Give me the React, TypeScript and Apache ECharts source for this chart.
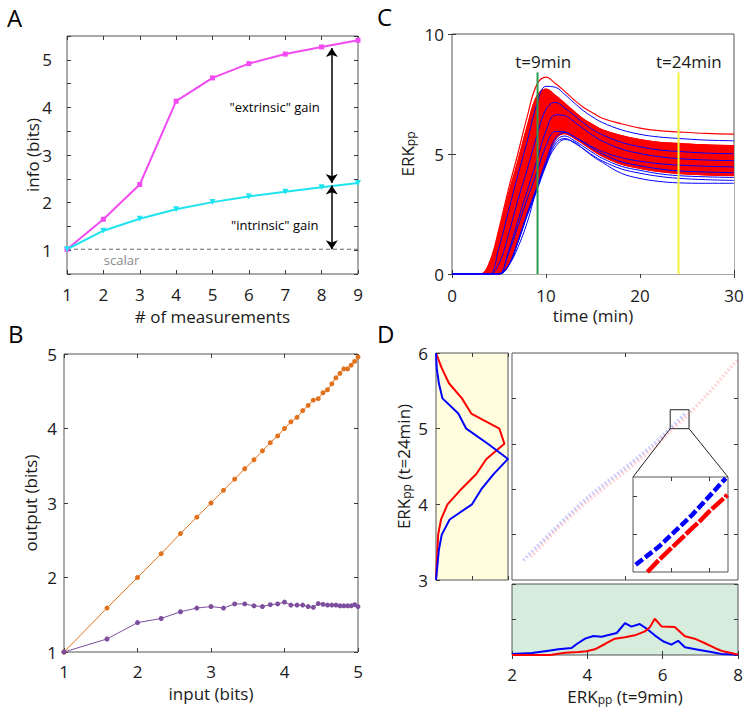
import React, { useEffect, useRef } from 'react';
import * as echarts from 'echarts';

const FONT = '"Open Sans", "Noto Sans", sans-serif';

// ---------- Panel A ----------
const measurements = [1, 2, 3, 4, 5, 6, 7, 8, 9];
const extrinsicInfo = [1.02, 1.65, 2.38, 4.13, 4.62, 4.92, 5.12, 5.27, 5.41];
const intrinsicInfo = [1.02, 1.41, 1.66, 1.86, 2.01, 2.13, 2.23, 2.32, 2.41];
const scalarInfo = 1.02;
const gainArrowX = 8.28;
const extrinsicArrow = [5.25, 2.41];
const intrinsicArrow = [2.36, 1.02];

// ---------- Panel B ----------
const inputBits = [1, 1.585, 2, 2.322, 2.585, 2.807, 3, 3.17, 3.322, 3.459, 3.585, 3.7, 3.807, 3.907, 4, 4.087, 4.17, 4.248, 4.322, 4.392, 4.459, 4.524, 4.585, 4.644, 4.7, 4.755, 4.807, 4.858, 4.907, 4.954, 5];
const outputLinear = [1, 1.59, 2, 2.32, 2.59, 2.81, 3, 3.17, 3.32, 3.46, 3.58, 3.7, 3.81, 3.9, 4, 4.09, 4.15, 4.24, 4.31, 4.38, 4.4, 4.48, 4.52, 4.6, 4.68, 4.74, 4.8, 4.8, 4.85, 4.9, 4.96];
const outputSaturating = [1, 1.175, 1.394, 1.45, 1.54, 1.59, 1.61, 1.59, 1.645, 1.645, 1.62, 1.61, 1.635, 1.645, 1.67, 1.63, 1.63, 1.63, 1.61, 1.6, 1.65, 1.64, 1.63, 1.63, 1.63, 1.62, 1.62, 1.62, 1.62, 1.635, 1.61];

// ---------- Panel C ----------
const timeMin = [0, 3, 4, 5, 6, 7, 8, 9, 10, 11, 12, 13, 14, 15, 16, 18, 20, 22, 24, 27, 30];
const redTrajectories: number[][] = [
  [0, 0, 0.49, 1.89, 3.53, 5.0, 6.56, 7.87, 8.2, 7.94, 7.61, 7.25, 6.94, 6.71, 6.49, 6.26, 6.08, 5.97, 5.92, 5.86, 5.83],
  [0, 0, 0.46, 1.77, 3.31, 4.7, 6.16, 7.39, 7.7, 7.44, 7.11, 6.76, 6.45, 6.22, 6.01, 5.77, 5.6, 5.49, 5.44, 5.38, 5.35],
  [0, 0, 0, 1.05, 2.48, 3.9, 5.25, 6.68, 7.43, 7.39, 7.1, 6.77, 6.45, 6.2, 5.98, 5.7, 5.52, 5.41, 5.35, 5.29, 5.25],
  [0, 0, 0, 0.99, 2.34, 3.69, 4.97, 6.32, 7.03, 7.0, 6.73, 6.43, 6.15, 5.91, 5.72, 5.46, 5.3, 5.19, 5.14, 5.08, 5.05],
  [0, 0, 0, 0.42, 1.61, 3.01, 4.27, 5.6, 6.72, 7.0, 6.77, 6.49, 6.18, 5.91, 5.71, 5.42, 5.24, 5.11, 5.05, 4.99, 4.96],
  [0, 0, 0, 0.41, 1.58, 2.95, 4.18, 5.48, 6.58, 6.85, 6.63, 6.35, 6.05, 5.79, 5.59, 5.31, 5.13, 5.01, 4.95, 4.89, 4.86],
  [0, 0, 0, 0.4, 1.52, 2.84, 4.03, 5.28, 6.34, 6.6, 6.4, 6.14, 5.86, 5.62, 5.43, 5.18, 5.01, 4.9, 4.84, 4.79, 4.76],
  [0, 0, 0, 0, 0.91, 2.15, 3.38, 4.55, 5.79, 6.44, 6.41, 6.16, 5.88, 5.62, 5.4, 5.08, 4.9, 4.78, 4.7, 4.65, 4.62],
  [0, 0, 0, 0, 0.87, 2.05, 3.22, 4.34, 5.52, 6.14, 6.11, 5.88, 5.62, 5.36, 5.16, 4.86, 4.69, 4.57, 4.5, 4.45, 4.41],
  [0, 0, 0, 0, 0.36, 1.38, 2.58, 3.66, 4.8, 5.76, 6.0, 5.8, 5.55, 5.28, 5.05, 4.7, 4.52, 4.39, 4.31, 4.25, 4.22],
  [0, 0, 0, 0, 0.35, 1.35, 2.52, 3.57, 4.68, 5.62, 5.85, 5.66, 5.41, 5.14, 4.91, 4.58, 4.4, 4.27, 4.19, 4.13, 4.1],
];
const blueTrajectories: number[][] = [
  [0, 0, 0, 1.11, 2.61, 4.11, 5.53, 7.03, 7.82, 7.78, 7.48, 7.13, 6.8, 6.53, 6.31, 6.01, 5.82, 5.71, 5.65, 5.58, 5.55],
  [0, 0, 0, 0.43, 1.64, 3.07, 4.36, 5.72, 6.86, 7.15, 6.91, 6.61, 6.29, 6.01, 5.8, 5.49, 5.3, 5.17, 5.11, 5.04, 5.01],
  [0, 0, 0, 0, 0.94, 2.21, 3.48, 4.69, 5.96, 6.63, 6.6, 6.34, 6.05, 5.77, 5.54, 5.21, 5.02, 4.89, 4.81, 4.75, 4.72],
  [0, 0, 0, 0, 0.84, 1.98, 3.12, 4.2, 5.34, 5.94, 5.92, 5.72, 5.5, 5.28, 5.1, 4.85, 4.7, 4.6, 4.54, 4.49, 4.46],
  [0, 0, 0, 0, 0.35, 1.36, 2.54, 3.6, 4.72, 5.66, 5.9, 5.71, 5.48, 5.22, 5.0, 4.68, 4.51, 4.38, 4.3, 4.25, 4.22],
  [0, 0, 0, 0, 0.35, 1.32, 2.47, 3.51, 4.6, 5.52, 5.75, 5.56, 5.31, 5.05, 4.82, 4.49, 4.32, 4.18, 4.1, 4.05, 4.02],
  [0, 0, 0, 0, 0.34, 1.3, 2.43, 3.45, 4.52, 5.42, 5.65, 5.46, 5.21, 4.94, 4.71, 4.38, 4.2, 4.07, 3.99, 3.93, 3.9],
  [0, 0, 0, 0.02, 0.35, 1.1, 2.15, 3.5, 4.55, 5.3, 5.6, 5.5, 5.2, 4.9, 4.65, 4.2, 3.98, 3.86, 3.8, 3.78, 3.78],
];
const sampleTimes = [9.1, 24.1];
const sampleLineTop = 8.4;
const sampleLabels = ['t=9min', 't=24min'];

// ---------- Panel D ----------
const erk24Levels = [3.0, 3.2, 3.4, 3.6, 3.8, 4.0, 4.2, 4.4, 4.6, 4.8, 5.0, 5.2, 5.4, 5.6, 5.8, 6.0];
const redDensity24 = [0, 0.01, 0.02, 0.03, 0.07, 0.16, 0.35, 0.56, 0.7, 0.95, 0.88, 0.49, 0.36, 0.18, 0.08, 0];
const blueDensity24 = [0, 0.02, 0.04, 0.08, 0.19, 0.5, 0.63, 0.8, 1.0, 0.72, 0.42, 0.31, 0.09, 0.04, 0.01, 0];

const blueErk9 = [2.0, 2.53, 2.97, 3.23, 3.58, 3.72, 3.94, 4.16, 4.38, 4.78, 5.0, 5.17, 5.39, 5.61, 5.79, 6.01, 6.23, 6.41, 6.59, 6.94, 7.29, 7.56, 8.0];
const blueDensity9 = [0.014, 0.028, 0.061, 0.08, 0.099, 0.155, 0.23, 0.268, 0.258, 0.31, 0.45, 0.4, 0.437, 0.357, 0.277, 0.193, 0.146, 0.2, 0.108, 0.075, 0.042, 0.014, 0.005];
const redErk9 = [2.0, 2.97, 3.06, 3.41, 3.76, 3.98, 4.2, 4.47, 4.73, 5.0, 5.26, 5.53, 5.66, 5.79, 5.97, 6.32, 6.59, 6.85, 7.11, 7.38, 7.6, 7.82, 8.0];
const redDensity9 = [0, 0, 0.005, 0.033, 0.042, 0.052, 0.08, 0.155, 0.23, 0.249, 0.277, 0.333, 0.39, 0.51, 0.403, 0.394, 0.263, 0.23, 0.169, 0.099, 0.052, 0.028, 0.005];

const blueCloudX = [2.3, 3.1, 3.98, 4.87, 5.75, 6.19, 6.6];
const blueCloudY = [3.26, 3.66, 4.08, 4.43, 4.79, 5.0, 5.2];
const redCloudX = [2.5, 3.1, 3.98, 4.87, 5.75, 6.19, 6.63, 7.16, 8.0];
const redCloudY = [3.3, 3.62, 4.03, 4.38, 4.74, 4.96, 5.16, 5.44, 5.92];

const zoomX = [6.2, 6.7];
const zoomY = [5.0, 5.25];
const insetBlueX = [6.214, 6.337, 6.513, 6.601, 6.688];
const insetBlueY = [5.019, 5.067, 5.151, 5.199, 5.247];
const insetRedX = [6.276, 6.337, 6.513, 6.55, 6.6, 6.697];
const insetRedY = [5.0, 5.032, 5.116, 5.133, 5.159, 5.203];

const zip = (xs: number[], ys: number[]) => xs.map((x, i) => [x, ys[i]]);

const TICK = '#3a3a3a';
const FRAME = '#555';

const labelStyle = (margin: number, extra: any = {}) => ({
  show: true,
  fontFamily: FONT,
  fontSize: 17,
  lineHeight: 16,
  color: '#1a1a1a',
  margin,
  showMinLabel: true,
  showMaxLabel: true,
  ...extra,
});

const nameStyle = {
  fontFamily: FONT,
  fontSize: 17,
  lineHeight: 18,
  color: '#1a1a1a',
  rich: {
    a: { fontFamily: FONT, fontSize: 17, color: '#1a1a1a', lineHeight: 18 },
    s: { fontFamily: FONT, fontSize: 12, color: '#1a1a1a', lineHeight: 10, verticalAlign: 'bottom' },
  },
};

function axis(gridIndex: number, position: string, min: number, max: number, cfg: any = {}) {
  const tick: any = { show: cfg.ticks !== false, inside: true, length: 4, lineStyle: { color: TICK, width: 1 } };
  if (cfg.tickValues) tick.customValues = cfg.tickValues;
  const a: any = {
    type: 'value',
    gridIndex,
    position,
    min,
    max,
    axisLine: { show: false },
    splitLine: { show: false },
    axisTick: tick,
    axisLabel: cfg.label ? cfg.label : { show: false },
  };
  if (cfg.interval !== undefined) a.interval = cfg.interval;
  if (cfg.name) {
    a.name = cfg.name;
    a.nameLocation = 'middle';
    a.nameGap = cfg.nameGap;
    a.nameMoveOverlap = false;
    a.nameTextStyle = nameStyle;
  }
  return a;
}

function buildOption() {
  const grids = [
    { left: 67, top: 36, width: 291, height: 238 }, // A
    { left: 64, top: 354, width: 294, height: 298 }, // B
    { left: 452, top: 34, width: 282, height: 240 }, // C
    { left: 436, top: 353, width: 72, height: 227, backgroundColor: '#FFFDDE' }, // D left marginal
    { left: 512, top: 353, width: 226, height: 227 }, // D main
    { left: 512, top: 584, width: 226, height: 71, backgroundColor: '#D6ECDD' }, // D bottom marginal
    { left: 633, top: 477, width: 95, height: 95, backgroundColor: '#ffffff' }, // D inset
  ].map((g: any) => ({
    show: true,
    borderColor: FRAME,
    borderWidth: 1,
    backgroundColor: g.backgroundColor || 'transparent',
    containLabel: false,
    ...g,
  }));

  const xAxis = [
    axis(0, 'bottom', 1, 9, { interval: 1, label: labelStyle(12), name: '# of measurements', nameGap: 33 }),
    axis(0, 'top', 1, 9, { interval: 1 }),
    axis(1, 'bottom', 1, 5, { interval: 1, label: labelStyle(11), name: 'input (bits)', nameGap: 32 }),
    axis(1, 'top', 1, 5, { interval: 1 }),
    axis(2, 'bottom', 0, 30, { interval: 10, label: labelStyle(13), name: 'time (min)', nameGap: 32 }),
    axis(2, 'top', 0, 30, { interval: 10 }),
    axis(3, 'bottom', 0, 1, { interval: 0.5 }),
    axis(3, 'top', 0, 1, { interval: 0.5 }),
    axis(4, 'bottom', 2, 8, { tickValues: [5] }),
    axis(4, 'top', 2, 8, { tickValues: [5] }),
    axis(5, 'bottom', 2, 8, {
      interval: 2,
      label: labelStyle(11),
      name: '{a|ERK}{s|pp}{a| (t=9min)}',
      nameGap: 32,
    }),
    axis(5, 'top', 2, 8, { interval: 2 }),
    axis(6, 'bottom', zoomX[0], zoomX[1], { tickValues: [6.4, 6.6] }),
    axis(6, 'top', zoomX[0], zoomX[1], { tickValues: [6.4, 6.6] }),
  ];

  const yAxis = [
    axis(0, 'left', 0.5, 5.5, {
      interval: 0.5,
      label: labelStyle(15, { formatter: (v: number) => (Math.abs(v - Math.round(v)) < 1e-6 ? String(Math.round(v)) : '') }),
      name: 'info (bits)',
      nameGap: 26,
    }),
    axis(0, 'right', 0.5, 5.5, { interval: 0.5 }),
    axis(1, 'left', 1, 5, { interval: 1, label: labelStyle(7), name: 'output (bits)', nameGap: 25 }),
    axis(1, 'right', 1, 5, { interval: 1 }),
    axis(2, 'left', 0, 10, { interval: 5, label: labelStyle(8), name: '{a|ERK}{s|pp}', nameGap: 36 }),
    axis(2, 'right', 0, 10, { interval: 5 }),
    axis(3, 'left', 3, 6, {
      interval: 1,
      label: labelStyle(8),
      name: '{a|ERK}{s|pp}{a| (t=24min)}',
      nameGap: 24,
    }),
    axis(3, 'right', 3, 6, { ticks: false }),
    axis(4, 'left', 3, 6, { tickValues: [3.6, 4.2, 4.8, 5.4] }),
    axis(4, 'right', 3, 6, { tickValues: [3.6, 4.2, 4.8, 5.4] }),
    axis(5, 'left', 0, 1, { interval: 0.5 }),
    axis(5, 'right', 0, 1, { interval: 0.5 }),
    axis(6, 'left', zoomY[0], zoomY[1], { tickValues: [5.1, 5.2] }),
    axis(6, 'right', zoomY[0], zoomY[1], { tickValues: [5.1, 5.2] }),
  ];

  const onGrid = (g: number) => ({ xAxisIndex: 2 * g, yAxisIndex: 2 * g });
  const series: any[] = [];

  // ----- A -----
  series.push({
    type: 'line',
    ...onGrid(0),
    data: [[measurements[0], scalarInfo], [measurements[measurements.length - 1], scalarInfo]],
    symbol: 'none',
    lineStyle: { color: '#666', width: 1, type: [4, 3] },
    z: 1,
    markLine: {
      silent: true,
      symbol: ['arrow', 'arrow'],
      symbolSize: 9,
      label: { show: false },
      lineStyle: { color: '#000', width: 1.5, type: 'solid' },
      data: [
        [{ coord: [gainArrowX, extrinsicArrow[0]] }, { coord: [gainArrowX, extrinsicArrow[1]] }],
        [{ coord: [gainArrowX, intrinsicArrow[0]] }, { coord: [gainArrowX, intrinsicArrow[1]] }],
      ],
    },
    markPoint: {
      silent: true,
      symbolSize: 0,
      data: [
        { coord: [6.71, 4.0], label: { show: true, position: 'inside', formatter: '"extrinsic" gain', fontFamily: FONT, fontSize: 13, color: '#000' } },
        { coord: [6.71, 1.52], label: { show: true, position: 'inside', formatter: '"intrinsic" gain', fontFamily: FONT, fontSize: 13, color: '#000' } },
        { coord: [2.5, 0.79], label: { show: true, position: 'inside', formatter: 'scalar', fontFamily: FONT, fontSize: 13, color: '#8a8a8a' } },
      ],
    },
  });
  series.push({
    type: 'line',
    ...onGrid(0),
    data: zip(measurements, extrinsicInfo),
    symbol: 'rect',
    symbolSize: 5,
    lineStyle: { color: '#F24BF2', width: 2 },
    itemStyle: { color: '#F24BF2' },
    z: 3,
  });
  series.push({
    type: 'line',
    ...onGrid(0),
    data: zip(measurements, intrinsicInfo),
    symbol: 'triangle',
    symbolRotate: 180,
    symbolSize: 6,
    lineStyle: { color: '#1FE3EF', width: 2 },
    itemStyle: { color: '#1FE3EF' },
    z: 3,
  });

  // ----- B -----
  series.push({
    type: 'line',
    ...onGrid(1),
    data: zip(inputBits, outputLinear),
    symbol: 'circle',
    symbolSize: 5,
    lineStyle: { color: '#E2711D', width: 1 },
    itemStyle: { color: '#E2711D' },
  });
  series.push({
    type: 'line',
    ...onGrid(1),
    data: zip(inputBits, outputSaturating),
    symbol: 'circle',
    symbolSize: 5,
    lineStyle: { color: '#7D4E9E', width: 1 },
    itemStyle: { color: '#7D4E9E' },
  });

  // ----- C -----
  // the dense red bundle: red fill under its upper member, white fill under its lower member
  const bandHigh = redTrajectories[1];
  const bandLow = redTrajectories[redTrajectories.length - 1];
  series.push({
    type: 'line',
    ...onGrid(2),
    data: zip(timeMin, bandHigh),
    symbol: 'none',
    smooth: 0.4,
    lineStyle: { color: '#FF0000', width: 1 },
    areaStyle: { color: '#FF0000', opacity: 1 },
    z: 2,
  });
  series.push({
    type: 'line',
    ...onGrid(2),
    data: zip(timeMin, bandLow),
    symbol: 'none',
    smooth: 0.4,
    lineStyle: { color: '#FF0000', width: 1 },
    areaStyle: { color: '#FFFFFF', opacity: 1 },
    z: 2,
  });
  redTrajectories.forEach((tr) => {
    series.push({
      type: 'line',
      ...onGrid(2),
      data: zip(timeMin, tr),
      symbol: 'none',
      smooth: 0.4,
      lineStyle: { color: '#FF0000', width: 1.2 },
      z: 3,
    });
  });
  blueTrajectories.forEach((tr) => {
    series.push({
      type: 'line',
      ...onGrid(2),
      data: zip(timeMin, tr),
      symbol: 'none',
      smooth: 0.4,
      lineStyle: { color: '#0000FF', width: 1 },
      z: 4,
    });
  });
  const sampleColors = ['#2B9C4E', '#F6F23A'];
  const labelX = [9.7, 25.2];
  sampleTimes.forEach((t, i) => {
    series.push({
      type: 'line',
      ...onGrid(2),
      data: [[t, 0], [t, sampleLineTop]],
      symbol: 'none',
      lineStyle: { color: sampleColors[i], width: 2 },
      z: 5,
      markPoint: {
        silent: true,
        symbolSize: 0,
        data: [
          {
            coord: [labelX[i], 8.85],
            label: { show: true, position: 'inside', formatter: sampleLabels[i], fontFamily: FONT, fontSize: 17, color: '#1a1a1a' },
          },
        ],
      },
    });
  });

  // ----- D left marginal -----
  series.push({
    type: 'line',
    ...onGrid(3),
    data: zip(redDensity24, erk24Levels),
    symbol: 'none',
    lineStyle: { color: '#FF0000', width: 2 },
  });
  series.push({
    type: 'line',
    ...onGrid(3),
    data: zip(blueDensity24, erk24Levels),
    symbol: 'none',
    lineStyle: { color: '#0000FF', width: 2 },
  });

  // ----- D main scatter cloud -----
  series.push({
    type: 'line',
    ...onGrid(4),
    data: zip(redCloudX, redCloudY),
    symbol: 'none',
    smooth: 0.3,
    lineStyle: { color: 'rgba(255,70,70,0.22)', width: 3.5, type: [2, 2] },
    markArea: {
      silent: true,
      itemStyle: { color: 'rgba(0,0,0,0)', borderColor: '#222', borderWidth: 1 },
      data: [[{ coord: [zoomX[0], zoomY[0]] }, { coord: [zoomX[1], zoomY[1]] }]],
    },
  });
  series.push({
    type: 'line',
    ...onGrid(4),
    data: zip(blueCloudX, blueCloudY),
    symbol: 'none',
    smooth: 0.3,
    lineStyle: { color: 'rgba(60,60,255,0.25)', width: 3.5, type: [2, 2] },
  });

  // ----- D bottom marginal -----
  series.push({
    type: 'line',
    ...onGrid(5),
    data: zip(blueErk9, blueDensity9),
    symbol: 'none',
    lineStyle: { color: '#0000FF', width: 2 },
  });
  series.push({
    type: 'line',
    ...onGrid(5),
    data: zip(redErk9, redDensity9),
    symbol: 'none',
    lineStyle: { color: '#FF0000', width: 2 },
  });

  // ----- D inset -----
  series.push({
    type: 'line',
    ...onGrid(6),
    data: zip(insetBlueX, insetBlueY),
    symbol: 'none',
    lineStyle: { color: '#0000FF', width: 4.5, type: [9, 3], cap: 'butt' },
  });
  series.push({
    type: 'line',
    ...onGrid(6),
    data: zip(insetRedX, insetRedY),
    symbol: 'none',
    lineStyle: { color: '#FF0000', width: 4.5, type: [16, 2], cap: 'butt' },
  });

  return {
    animation: false,
    backgroundColor: '#ffffff',
    textStyle: { fontFamily: FONT },
    grid: grids,
    xAxis,
    yAxis,
    series,
  };
}

function buildGraphic(chart: any) {
  const letter = (t: string, x: number, y: number) => ({
    type: 'text',
    x,
    y,
    style: { text: t, fontFamily: FONT, fontSize: 24, fill: '#000', verticalAlign: 'top', align: 'left' },
  });
  const bl = chart.convertToPixel({ gridIndex: 4 }, [zoomX[0], zoomY[0]]);
  const br = chart.convertToPixel({ gridIndex: 4 }, [zoomX[1], zoomY[0]]);
  const tl = chart.convertToPixel({ gridIndex: 6 }, [zoomX[0], zoomY[1]]);
  const tr = chart.convertToPixel({ gridIndex: 6 }, [zoomX[1], zoomY[1]]);
  const connector = (a: number[], b: number[]) => ({
    type: 'line',
    shape: { x1: a[0], y1: a[1], x2: b[0], y2: b[1] },
    style: { stroke: '#222', lineWidth: 1 },
    z: 10,
  });
  return [
    letter('A', 7, 5),
    letter('B', 8, 321),
    letter('C', 377, 4),
    letter('D', 377, 321),
    connector(bl, tl),
    connector(br, tr),
  ];
}

export default function App() {
  const ref = useRef<HTMLDivElement>(null);
  useEffect(() => {
    document.body.style.margin = '0';
    const chart = echarts.init(ref.current as HTMLDivElement, null, { renderer: 'svg', width: 751, height: 715 });
    chart.setOption(buildOption() as any);
    chart.setOption({ graphic: buildGraphic(chart) } as any);
    return () => chart.dispose();
  }, []);
  return <div ref={ref} style={{ width: 751, height: 715 }} />;
}
